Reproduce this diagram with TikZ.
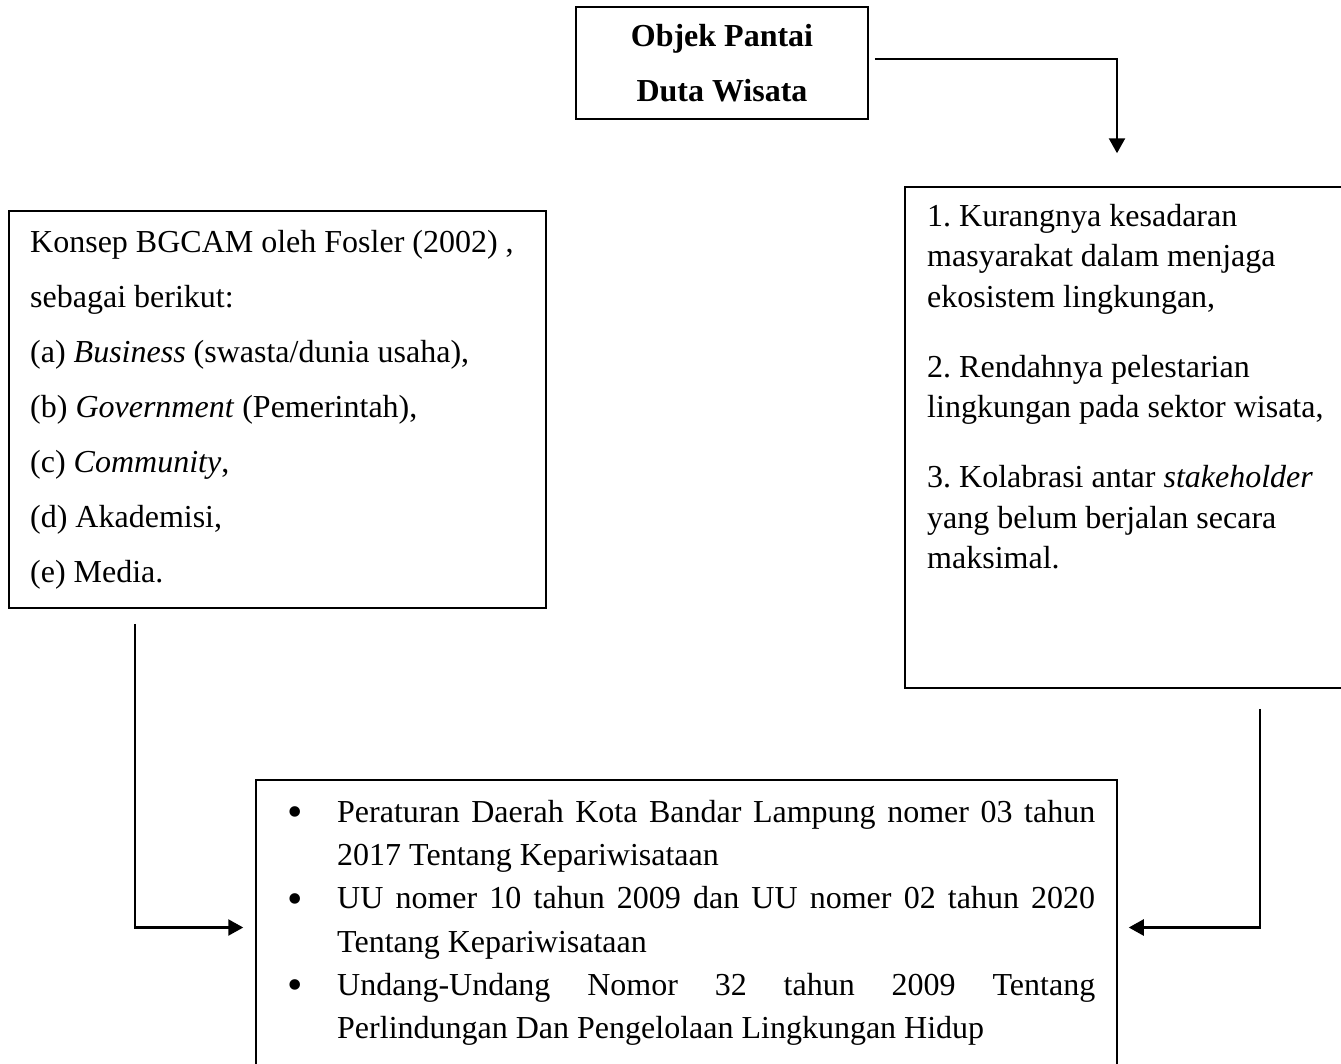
\documentclass[tikz,border=0pt]{standalone}
\usepackage{fontspec}
\setmainfont{Liberation Serif}
\usetikzlibrary{arrows.meta}
\hyphenpenalty=10000
\exhyphenpenalty=10000
\tolerance=10000
\begin{document}
\frenchspacing
\begin{tikzpicture}[x=1pt,y=-1pt,
  box/.style={draw, line width=1.5pt, inner sep=0pt},
  conn/.style={line width=2.4pt, -{Triangle[length=15pt,width=16pt]}},
  txt/.style={inner sep=0pt, anchor=north west, align=left},
  itemtxt/.style={inner sep=0pt, anchor=north west, text width=758pt, align=justify,
    font=\fontsize{32}{43.3}\selectfont},
  bul/.style={inner sep=0pt, anchor=base, font=\fontsize{44}{44}\selectfont},
]
\useasboundingbox (0,0) rectangle (1341,1063);

% boxes
\node[box, minimum width=292pt, minimum height=112pt, align=center,
      font=\fontsize{32}{55}\selectfont\bfseries] (top) at (722,63) {Objek Pantai\\Duta Wisata};
\node[box, minimum width=537pt, minimum height=397pt] (left) at (277.5,409.5) {};
\node[box, minimum width=440pt, minimum height=501pt] (right) at (1125,437.5) {};
\node[box, minimum width=861pt, minimum height=295pt] (bottom) at (686.5,927.5) {};

% left text
\node[txt, font=\fontsize{32}{55}\selectfont] (lefttext) at (30,224)
  {\vrule height28pt depth0pt width0pt Konsep BGCAM oleh Fosler (2002) ,\\
   sebagai berikut:\\
   (a) \textit{Business} (swasta/dunia usaha),\\
   (b) \textit{Government} (Pemerintah),\\
   (c) \textit{Community},\\
   (d) Akademisi,\\
   (e) Media.};

% right text
\node[txt, font=\fontsize{32}{40.5}\selectfont] (righttext) at (927,198)
  {\vrule height28pt depth0pt width0pt 1. Kurangnya kesadaran\\
   masyarakat dalam menjaga\\
   ekosistem lingkungan,\\[29.5pt]
   2. Rendahnya pelestarian\\
   lingkungan pada sektor wisata,\\[29.5pt]
   3. Kolabrasi antar \textit{stakeholder}\\
   yang belum berjalan secara\\
   maksimal.};

% bottom list
\node[bul] (b1) at (295,826.5) {\textbullet};
\node[bul] (b2) at (295,913.1) {\textbullet};
\node[bul] (b3) at (295,999.7) {\textbullet};
\node[itemtxt] (i1) at (337,794)
  {\leavevmode\vrule height28pt depth0pt width0pt Peraturan Daerah Kota Bandar Lampung nomer 03 tahun 2017 Tentang Kepariwisataan};
\node[itemtxt] (i2) at (337,880.6)
  {\leavevmode\vrule height28pt depth0pt width0pt UU nomer 10 tahun 2009 dan UU nomer 02 tahun 2020 Tentang Kepariwisataan};
\node[itemtxt] (i3) at (337,967.2)
  {\leavevmode\vrule height28pt depth0pt width0pt Undang-Undang Nomor 32 tahun 2009 Tentang Perlindungan Dan Pengelolaan Lingkungan Hidup};

% connectors
\draw[conn] ([xshift=6pt,yshift=4pt]top.east) -| ([xshift=-8pt,yshift=33pt]right.north);
\draw[conn] ([xshift=-142.5pt,yshift=-15pt]left.south) |- ([xshift=-12pt]bottom.west);
\draw[conn] ([xshift=135pt,yshift=-20pt]right.south) |- ([xshift=11pt]bottom.east);
\end{tikzpicture}
\end{document}
